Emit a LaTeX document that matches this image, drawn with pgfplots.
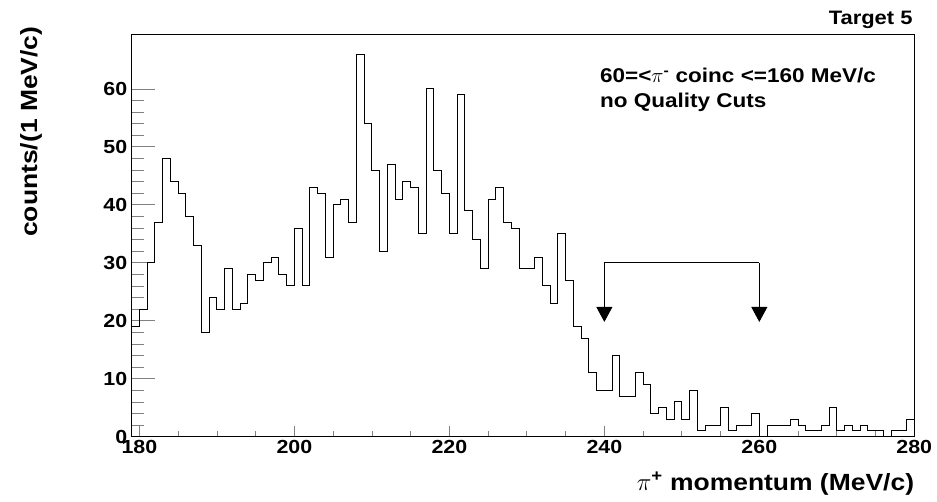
\documentclass[border=0pt]{standalone}
\usepackage{fontspec}
\setmainfont{Liberation Sans}[FakeStretch=1.13]
\usepackage{pgfplots}
\pgfplotsset{compat=1.18}
\usetikzlibrary{arrows.meta}
\pgfplotstableread{
x y
179 19
180 22
181 30
182 37
183 48
184 44
185 42
186 38
187 33
188 18
189 24
190 22
191 29
192 22
193 23
194 28
195 27
196 30
197 31
198 28
199 26
200 36
201 26
202 43
203 42
204 31
205 40
206 41
207 37
208 66
209 54
210 46
211 32
212 47
213 41
214 44
215 43
216 35
217 60
218 46
219 42
220 35
221 59
222 39
223 34
224 29
225 41
226 43
227 37
228 36
229 29
230 29
231 31
232 26
233 23
234 35
235 27
236 19
237 17
238 11
239 8
240 8
241 14
242 7
243 7
244 11
245 9
246 4
247 5
248 3
249 6
250 3
251 8
252 1
253 2
254 2
255 5
256 1
257 2
258 2
259 4
260 0
261 2
262 2
263 2
264 3
265 2
266 1
267 1
268 2
269 5
270 1
271 2
272 1
273 2
274 1
275 1
276 0
277 1
278 1
279 3
280 3
}\histdata
\begin{document}
\begin{tikzpicture}
\useasboundingbox (-131.7bp,-65.3bp) rectangle (805.3bp,436.7bp);
\begin{axis}[
  scale only axis,
  width=782.6bp, height=401.7bp,
  xmin=179, xmax=280, ymin=0, ymax=69.3,
  axis line style={line width=1bp},
  xtick={180,200,...,280},
  ytick={0,10,...,60},
  minor x tick num=3,
  minor y tick num=4,
  tick align=inside,
  xtick pos=bottom, ytick pos=left,
  xtick style={line width=0.8bp,/pgfplots/major tick length=11bp,/pgfplots/minor tick length=6bp},
  ytick style={line width=0.8bp,/pgfplots/major tick length=23bp,/pgfplots/minor tick length=12bp},
  tick label style={font=\fontsize{19}{19}\selectfont\bfseries},
  yticklabel style={xshift=-1bp},
  /pgf/number format/assume math mode=true,
  /pgf/number format/1000 sep={},
  xlabel={$\pi$\textsuperscript{+} momentum (MeV/c)},
  ylabel={counts/(1 MeV/c)},
  label style={font=\fontsize{23.5}{23.5}\selectfont\bfseries},
  xlabel style={at={(axis description cs:1.0,-0.1327)}, anchor=base east, inner sep=0pt},
  ylabel style={at={(axis description cs:-0.1287,1.0216)}, anchor=east, inner sep=0pt},
  clip=false,
]
\addplot[const plot, black, line width=1bp] table[x=x,y=y] {\histdata};
\draw[line width=0.9bp, -{Triangle[width=16bp,length=15bp]}] (axis cs:240,30) -- (axis cs:240,19.8);
\draw[line width=0.9bp] (axis cs:240,30) -- (axis cs:260,30);
\draw[line width=0.9bp, -{Triangle[width=16bp,length=15bp]}] (axis cs:260,30) -- (axis cs:260,19.8);
\node[anchor=base west, inner sep=0pt, font=\fontsize{20}{20}\selectfont\bfseries] at (axis cs:239.43,61.1) {60=<$\pi$\textsuperscript{-} coinc <=160 MeV/c};
\node[anchor=base west, inner sep=0pt, font=\fontsize{20}{20}\selectfont\bfseries] at (axis cs:239.43,56.84) {no Quality Cuts};
\node[anchor=base east, inner sep=0pt, font=\fontsize{19.5}{19.5}\selectfont\bfseries] at (axis description cs:0.998,1.0249) {Target 5};
\end{axis}
\end{tikzpicture}
\end{document}
